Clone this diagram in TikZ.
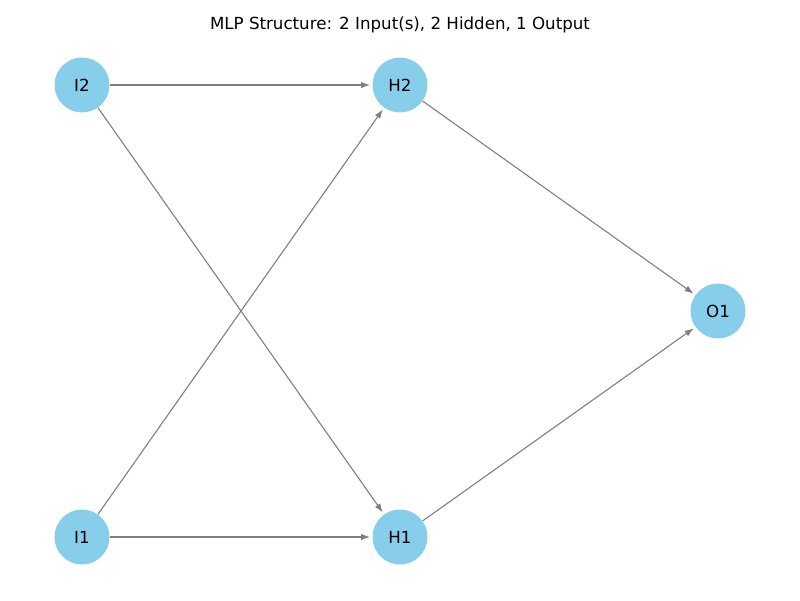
\documentclass[tikz,border=0pt]{standalone}
\usepackage{fontspec}
\setmainfont{DejaVu Sans}
\usetikzlibrary{positioning,arrows.meta}
\definecolor{nodeblue}{RGB}{135,206,235}
\definecolor{linkgray}{RGB}{128,128,128}

\begin{document}
\begin{tikzpicture}[x=0.72pt, y=0.72pt, node distance={228.96pt}, font=\fontsize{12}{14}\selectfont,
	main/.style = {circle, fill=nodeblue, minimum size=39.6pt, inner sep=0pt},
	link/.style = {color=linkgray, line width=0.8pt, shorten >=1.5pt, -{Latex[length=6.5pt,width=4.6pt]}}]
		\useasboundingbox (0,0) rectangle (800,600);
		\node (title) at (400,575) {MLP Structure: 2 Input(s), 2 Hidden, 1 Output};
		\node[main] (I1) at (82,63) {I1};
		\node[main] (H1) [right of=I1] {H1};
		\node[main] (I2) at (82,515) {I2};
		\node[main] (H2) [right of=I2] {H2};
		\node[main] (O1) at (718,289) {O1};
		\draw[link] (I1) edge (H1);
		\draw[link] (I1) edge (H2);
		\draw[link] (I2) edge (H1);
		\draw[link] (I2) edge (H2);
		\draw[link] (H1) edge (O1);
		\draw[link] (H2) edge (O1);
	\end{tikzpicture}
\end{document}
